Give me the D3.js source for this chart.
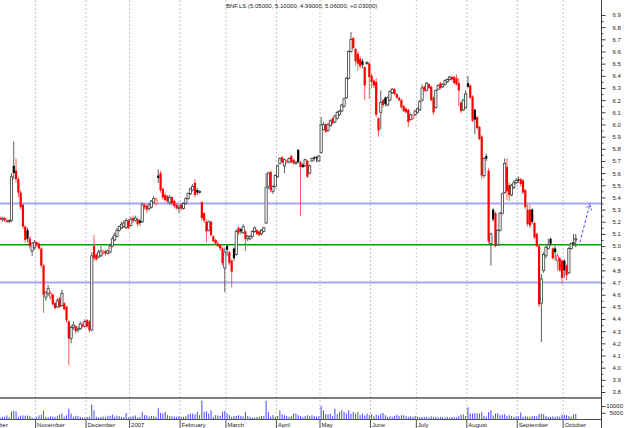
<!DOCTYPE html>
<html><head><meta charset="utf-8">
<script src="https://cdn.jsdelivr.net/npm/d3@7"></script>
<style>html,body{margin:0;padding:0;background:#fff;overflow:hidden}</style>
</head><body>
<svg id="c" width="625" height="428"></svg>
<script>
const title = "BNF.LS (5.05000, 5.10000, 4.99000, 5.06000, +0.03000)";
const monthLabels = ["October","November","December","2007","February","March","April","May","June","July","August","September","October"];
const monthStart = [-6,16,38,57,79,99,121,140,162,182,204,226,246];

const open = [
5.23,5.22,5.23,5.21,5.20,5.21,5.66,5.62,5.55,5.44,5.34,5.16,5.13,5.06,4.96,4.99,
5.03,5.02,4.98,4.84,4.58,4.61,4.58,4.60,4.53,4.50,4.57,4.51,4.53,4.50,4.38,4.24,4.33,4.34,4.31,4.32,4.35,4.34,
4.39,4.38,4.31,5.00,4.93,4.91,4.92,4.94,4.96,4.94,4.95,5.00,5.05,5.08,5.13,5.15,5.16,5.15,5.21,
5.17,5.23,5.21,5.22,5.21,5.20,5.34,5.33,5.31,5.32,5.36,5.35,5.58,5.60,5.47,5.42,5.41,5.36,5.40,5.37,5.34,5.31,
5.34,5.31,5.35,5.39,5.43,5.46,5.52,5.46,5.44,5.36,5.27,5.20,5.13,5.20,5.08,5.05,5.02,5.01,4.98,4.82,
5.00,4.95,4.88,4.98,4.93,5.15,5.14,5.11,5.12,5.06,5.06,5.08,5.12,5.13,5.12,5.10,5.12,5.19,5.49,5.61,5.45,5.49,
5.57,5.68,5.73,5.66,5.69,5.69,5.74,5.71,5.68,5.79,5.69,5.67,5.66,5.70,5.60,5.70,5.73,5.73,5.70,
5.77,5.96,6.00,5.95,5.99,6.05,6.02,6.05,6.08,6.11,6.15,6.22,6.38,6.60,6.71,6.62,6.58,6.54,6.52,6.47,6.50,6.50,
6.40,6.36,6.35,6.05,6.10,6.20,6.22,6.16,6.20,6.26,6.29,6.25,6.22,6.20,6.15,6.13,6.12,6.04,6.05,6.08,
6.10,6.12,6.20,6.31,6.28,6.33,6.31,6.22,6.14,6.29,6.34,6.31,6.33,6.35,6.37,6.39,6.39,6.38,6.34,6.18,6.12,6.14,
6.34,6.32,6.23,6.12,6.06,5.98,5.90,5.58,5.74,5.62,5.02,5.30,5.27,5.01,5.13,5.27,5.44,5.65,5.50,5.42,5.48,5.52,
5.55,5.55,5.54,5.46,5.30,5.30,5.30,5.19,5.10,5.00,4.53,4.80,4.92,4.98,5.06,4.98,4.98,4.88,4.90,4.88,
4.88,4.84,4.78,4.98,5.02,5.05];

const high = [
5.25,5.24,5.24,5.23,5.22,5.60,5.86,5.72,5.57,5.46,5.35,5.17,5.15,5.08,5.03,5.05,
5.04,5.03,4.99,4.85,4.63,4.68,4.63,4.61,4.54,4.57,4.58,4.64,4.54,4.51,4.39,4.35,4.38,4.35,4.34,4.38,4.37,4.40,
4.40,4.39,4.95,5.09,4.94,4.97,5.00,4.97,4.97,4.97,5.02,5.08,5.11,5.15,5.17,5.20,5.21,5.23,5.22,
5.24,5.25,5.25,5.23,5.22,5.36,5.35,5.34,5.35,5.38,5.41,5.40,5.63,5.62,5.48,5.44,5.42,5.42,5.41,5.38,5.35,5.34,
5.35,5.36,5.40,5.44,5.48,5.51,5.55,5.48,5.46,5.37,5.28,5.22,5.21,5.21,5.09,5.06,5.04,5.02,4.99,4.99,
5.01,4.96,4.89,4.99,5.14,5.16,5.15,5.18,5.13,5.09,5.09,5.13,5.16,5.14,5.13,5.14,5.16,5.60,5.61,5.62,5.50,5.59,
5.67,5.73,5.74,5.72,5.71,5.73,5.75,5.72,5.70,5.80,5.70,5.68,5.72,5.71,5.67,5.73,5.74,5.74,5.75,
6.06,6.02,6.01,6.01,6.04,6.06,6.08,6.11,6.12,6.17,6.22,6.39,6.61,6.76,6.72,6.63,6.60,6.56,6.54,6.48,6.52,6.51,
6.42,6.37,6.38,6.06,6.28,6.21,6.23,6.23,6.28,6.30,6.30,6.26,6.23,6.21,6.16,6.14,6.13,6.09,6.08,6.12,
6.14,6.20,6.33,6.32,6.35,6.34,6.32,6.23,6.29,6.33,6.35,6.34,6.37,6.38,6.40,6.40,6.40,6.41,6.38,6.19,6.21,6.28,
6.40,6.33,6.24,6.13,6.07,5.99,5.91,5.73,5.76,5.64,5.11,5.31,5.28,5.14,5.28,5.44,5.72,5.72,5.52,5.51,5.54,5.56,
5.57,5.56,5.55,5.47,5.34,5.34,5.31,5.20,5.11,5.01,4.77,4.95,5.00,5.06,5.07,4.99,5.00,4.94,4.91,4.89,
4.89,4.85,4.99,5.03,5.10,5.10];

const low = [
5.21,5.20,5.20,5.19,5.19,5.20,5.55,5.52,5.40,5.30,5.14,5.03,5.03,4.98,4.92,4.97,
4.99,4.97,4.82,4.45,4.55,4.59,4.56,4.51,4.48,4.49,4.49,4.50,4.47,4.37,4.02,4.20,4.31,4.28,4.29,4.31,4.33,4.33,
4.33,4.29,4.30,4.88,4.88,4.90,4.91,4.93,4.92,4.93,4.94,4.99,5.04,5.07,5.12,5.14,5.15,5.14,5.14,
5.16,5.19,5.20,5.16,5.17,5.19,5.30,5.27,5.29,5.31,5.35,5.33,5.52,5.44,5.38,5.36,5.35,5.34,5.33,5.31,5.30,5.27,
5.29,5.30,5.34,5.38,5.42,5.45,5.40,5.42,5.43,5.21,5.19,5.03,5.12,5.08,5.03,5.01,4.99,4.96,4.84,4.62,
4.92,4.84,4.66,4.88,4.92,5.09,5.10,5.10,4.96,5.04,5.05,5.07,5.11,5.09,5.08,5.09,5.11,5.18,5.47,5.44,5.43,5.48,
5.56,5.67,5.68,5.60,5.68,5.68,5.68,5.67,5.67,5.68,5.25,5.64,5.65,5.56,5.59,5.69,5.70,5.69,5.69,
5.76,5.95,5.93,5.94,5.98,6.00,6.01,6.04,6.07,6.10,6.14,6.21,6.37,6.59,6.62,6.48,6.44,6.46,6.46,6.20,6.49,6.21,
6.30,6.30,6.06,5.90,5.96,6.14,6.15,6.15,6.19,6.25,6.24,6.21,6.19,6.13,6.10,6.09,5.98,6.03,6.04,6.07,
6.09,6.11,6.19,6.27,6.27,6.29,6.19,6.08,6.13,6.28,6.29,6.30,6.32,6.34,6.36,6.36,6.33,6.32,6.15,6.09,6.11,6.13,
6.30,6.21,6.02,5.92,5.96,5.87,5.55,5.56,5.70,5.02,4.84,5.20,4.99,5.00,5.12,5.26,5.43,5.38,5.37,5.41,5.47,5.51,
5.52,5.49,5.43,5.30,5.16,5.15,5.18,5.06,4.99,4.50,4.21,4.78,4.90,4.97,5.00,4.89,4.88,4.80,4.79,4.69,
4.74,4.72,4.77,4.97,5.00,4.99];

const close = [
5.22,5.23,5.21,5.20,5.21,5.57,5.60,5.55,5.44,5.32,5.16,5.05,5.06,5.00,5.02,5.03,
5.01,4.98,4.84,4.60,4.62,4.65,4.61,4.52,4.49,4.55,4.50,4.61,4.48,4.39,4.24,4.33,4.35,4.30,4.32,4.36,4.34,4.38,
4.34,4.31,4.92,4.90,4.89,4.95,4.96,4.95,4.94,4.96,5.00,5.06,5.09,5.13,5.16,5.18,5.19,5.21,5.15,
5.22,5.21,5.23,5.18,5.19,5.34,5.32,5.30,5.34,5.37,5.39,5.38,5.56,5.46,5.40,5.38,5.37,5.40,5.35,5.33,5.31,5.32,
5.31,5.35,5.39,5.43,5.47,5.49,5.42,5.44,5.45,5.23,5.21,5.12,5.20,5.09,5.04,5.02,5.00,4.98,4.86,4.95,
4.97,4.86,4.79,4.90,5.12,5.11,5.12,5.16,5.06,5.08,5.08,5.12,5.15,5.10,5.09,5.13,5.15,5.48,5.60,5.46,5.49,5.58,
5.66,5.72,5.69,5.71,5.70,5.72,5.69,5.68,5.69,5.69,5.65,5.65,5.71,5.57,5.66,5.72,5.72,5.72,5.74,
6.00,6.00,5.94,6.00,6.03,6.01,6.07,6.10,6.11,6.16,6.21,6.38,6.60,6.70,6.63,6.52,6.50,6.48,6.49,6.32,6.51,6.39,
6.35,6.32,6.08,5.95,6.18,6.16,6.17,6.22,6.27,6.29,6.25,6.22,6.20,6.14,6.11,6.10,6.02,6.08,6.07,6.11,
6.13,6.19,6.30,6.28,6.34,6.30,6.20,6.10,6.28,6.32,6.30,6.33,6.36,6.37,6.39,6.37,6.34,6.33,6.28,6.11,6.20,6.25,
6.31,6.22,6.03,6.04,5.97,5.88,5.58,5.72,5.72,5.04,5.10,5.22,5.00,5.13,5.27,5.43,5.68,5.45,5.42,5.50,5.52,5.54,
5.54,5.51,5.44,5.32,5.18,5.17,5.20,5.07,5.00,4.52,4.73,4.93,4.99,5.01,5.02,4.90,4.95,4.92,4.80,4.74,
4.80,4.76,4.98,5.02,5.03,5.06];

const volume = [
1500,2000,2000,3000,1800,5800,6500,6000,2000,2800,3000,2800,3000,2600,1500,1000,
2000,3000,3500,6500,2000,1500,2400,2200,2000,2800,3500,4400,2200,3200,8000,4400,2000,2800,2500,2000,1500,1500,
1800,2000,11000,6800,2000,1500,2000,2200,2000,2800,2600,3500,2000,2800,2500,2000,1800,4800,1500,
2000,2600,3000,1500,2000,5600,3200,3200,2000,2600,2400,2000,8300,4800,4400,5600,3200,2600,2400,2000,2000,2600,
2000,2000,2400,3800,4400,4400,3800,5600,3200,13900,5600,6200,4400,6800,2000,3200,3000,2600,5600,6500,
4400,3200,2000,2600,2600,3200,2600,2200,5600,2600,2000,1500,1500,2000,2000,2600,2600,13900,5600,2000,3200,2000,
2600,6800,4000,3200,2600,2000,2600,4400,4400,3200,2600,2000,2600,3200,2600,3200,2600,2000,2500,
10000,6800,4000,3800,4400,2600,8000,4000,5600,6800,5600,4400,6800,4200,5600,4400,5600,3200,4400,3000,4400,3200,
4000,2400,3600,3000,4400,4800,3200,2000,2400,2000,2600,3600,2600,3200,3200,2600,2000,2400,2000,2600,
2000,1800,2000,2000,2000,1500,2400,2000,2000,1500,2000,2000,1500,2000,1500,2000,2000,1500,2400,3600,3600,2600,
9100,4400,4400,4800,4400,4400,5600,2600,2000,5600,6800,3000,4400,4800,3200,3600,4000,2600,3200,2600,2000,2400,
2400,5200,2000,2400,2000,2000,2400,2600,2400,4000,4400,4000,2600,2000,2000,2400,2000,2400,2000,3600,
3600,3200,2600,2000,3600,4000];

const priceTicks = [3.8,3.9,4.0,4.1,4.2,4.3,4.4,4.5,4.6,4.7,4.8,4.9,5.0,5.1,5.2,5.3,5.4,5.5,5.6,5.7,5.8,5.9,6.0,6.1,6.2,6.3,6.4,6.5,6.6,6.7,6.8,6.9];
const volumeTicks = [5000, 10000];
const greenLevel = 5.01;
const blueLevels = [5.35, 4.70];
const arrowFrom = [252.8, 5.03];
const arrowTo = [257.2, 5.35];

const FONT = "'Liberation Sans', Arial, sans-serif";
const svg = d3.select("#c");
const RIGHT = 601;
const x = d3.scaleLinear().domain([0, 262]).range([0, RIGHT]);
const y = d3.scaleLinear().domain([3.8, 6.9]).range([392, 15]);
const yv = d3.scaleLinear().domain([0, 10000]).range([419.5, 406]);

const defs = svg.append("defs");
defs.append("clipPath").attr("id","clipP").append("rect").attr("x",0).attr("y",0).attr("width",RIGHT).attr("height",398);
defs.append("clipPath").attr("id","clipV").append("rect").attr("x",0).attr("y",398).attr("width",RIGHT).attr("height",22);

// month gridlines
const months = monthStart.map((m,k) => ({m, label: monthLabels[k]}));
svg.append("g").selectAll("line").data(months.filter(d => x(d.m - 0.5) >= 0)).join("line")
  .attr("x1", d => x(d.m - 0.5)).attr("x2", d => x(d.m - 0.5))
  .attr("y1", 0).attr("y2", 419.5)
  .attr("stroke", "#c4c4c4").attr("stroke-width", 1).attr("stroke-dasharray", "2,2");

// level lines
const lv = svg.append("g").attr("clip-path","url(#clipP)");
lv.selectAll("line.blue").data(blueLevels).join("line").attr("class","blue")
  .attr("x1",0).attr("x2",RIGHT).attr("y1",d=>y(d)).attr("y2",d=>y(d))
  .attr("stroke","#a4a4ff").attr("stroke-width",2);
lv.append("line").attr("x1",0).attr("x2",RIGHT).attr("y1",y(greenLevel)).attr("y2",y(greenLevel))
  .attr("stroke","#00a000").attr("stroke-width",1.5);

// candles
const idx = d3.range(close.length);
const info = idx.map(i => {
  const o = open[i], c = close[i];
  const pc = i > 0 ? close[i-1] : o;
  const down = c < pc;
  return {i, o, c, h: Math.max(high[i], o, c), l: Math.min(low[i], o, c), down, filled: c < o};
});
const cg = svg.append("g").attr("clip-path","url(#clipP)");
cg.selectAll("line.wick").data(info).join("line").attr("class","wick")
  .attr("x1", d => x(d.i)).attr("x2", d => x(d.i))
  .attr("y1", d => y(d.h)).attr("y2", d => y(d.l))
  .attr("stroke", d => d.down ? "#ff4a4a" : "#4a4a4a").attr("stroke-width", 0.9);
cg.selectAll("rect.body").data(info).join("rect").attr("class","body")
  .attr("x", d => x(d.i) - 1.1).attr("width", 2.2)
  .attr("y", d => y(Math.max(d.o, d.c)))
  .attr("height", d => Math.max(Math.abs(y(d.o) - y(d.c)), 0.9))
  .attr("fill", d => d.filled ? (d.down ? "#ff0000" : "#000000") : "#ffffff")
  .attr("stroke", d => d.filled ? "none" : (d.down ? "#ff3a3a" : "#3a3a3a"))
  .attr("stroke-width", 0.8);

// arrow
const ax1 = x(arrowFrom[0]), ay1 = y(arrowFrom[1]), ax2 = x(arrowTo[0]), ay2 = y(arrowTo[1]);
const ang = Math.atan2(ay2 - ay1, ax2 - ax1);
const ah = 7, spread = 0.45;
const ag = svg.append("g").attr("stroke","#4646ff").attr("stroke-width",1).attr("fill","none");
ag.append("line").attr("x1",ax1).attr("y1",ay1).attr("x2",ax2).attr("y2",ay2).attr("stroke-dasharray","3,2");
ag.append("path").attr("stroke-dasharray","2,1.5").attr("d",
  `M${ax2 - ah*Math.cos(ang - spread)},${ay2 - ah*Math.sin(ang - spread)}L${ax2},${ay2}L${ax2 - ah*Math.cos(ang + spread)},${ay2 - ah*Math.sin(ang + spread)}`);

// volume
svg.append("g").attr("clip-path","url(#clipV)").selectAll("line").data(idx).join("line")
  .attr("x1", i => x(i)).attr("x2", i => x(i))
  .attr("y1", yv(0)).attr("y2", i => yv(volume[i]))
  .attr("stroke", "#4848ff").attr("stroke-width", 1);

// panel separators and axis lines
svg.append("line").attr("x1",0).attr("x2",RIGHT).attr("y1",398).attr("y2",398).attr("stroke","#505050").attr("stroke-width",1.3);
svg.append("line").attr("x1",0).attr("x2",RIGHT).attr("y1",419.5).attr("y2",419.5).attr("stroke","#505050").attr("stroke-width",1);
svg.append("line").attr("x1",RIGHT+0.5).attr("x2",RIGHT+0.5).attr("y1",0).attr("y2",428).attr("stroke","#404040").attr("stroke-width",1);

// right price axis
const pa = svg.append("g").attr("transform", `translate(${RIGHT+0.5},0)`)
  .call(d3.axisRight(y).tickValues(priceTicks).tickSize(4).tickPadding(7).tickFormat(d3.format(".1f")));
pa.select(".domain").remove();
pa.selectAll("line").attr("stroke","#404040");
pa.selectAll("text").attr("font-family",FONT).attr("font-size","6px").attr("fill","#222");
const minorTicks = priceTicks.slice(0,-1).map(v => v + 0.05);
const pm = svg.append("g").attr("transform", `translate(${RIGHT+0.5},0)`)
  .call(d3.axisRight(y).tickValues(minorTicks).tickSize(2).tickFormat(""));
pm.select(".domain").remove();
pm.selectAll("line").attr("stroke","#404040");

// volume axis
const va = svg.append("g").attr("transform", `translate(${RIGHT+0.5},0)`)
  .call(d3.axisRight(yv).tickValues(volumeTicks).tickSize(4).tickFormat(d3.format("d")));
va.select(".domain").remove();
va.selectAll("line").attr("stroke","#404040");
va.selectAll("text").attr("x", 21.5).attr("text-anchor","end")
  .attr("font-family",FONT).attr("font-size","6px").attr("fill","#222");

// bottom month axis
const mg = svg.append("g");
mg.selectAll("line").data(months).join("line")
  .attr("x1", d => x(d.m - 0.5)).attr("x2", d => x(d.m - 0.5))
  .attr("y1", 419.5).attr("y2", 428).attr("stroke","#505050").attr("stroke-width",1);
mg.selectAll("text").data(months).join("text")
  .attr("x", d => x(d.m - 0.5) + 1.5).attr("y", 426.6)
  .attr("font-family",FONT).attr("font-size","6px").attr("fill","#222")
  .text(d => d.label);

// title
svg.append("text").attr("x",226).attr("y",8.2)
  .attr("font-family",FONT).attr("font-size","6px").attr("fill","#222").text(title);
</script>
</body></html>
